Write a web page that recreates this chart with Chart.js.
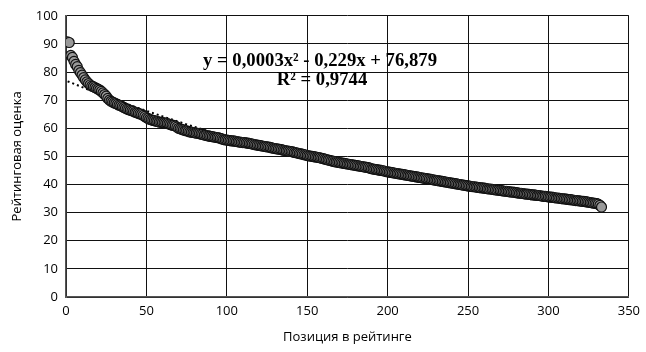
<!DOCTYPE html>
<html>
<head>
<meta charset="utf-8">
<script src="https://cdn.jsdelivr.net/npm/chart.js@4/dist/chart.umd.min.js"></script>
<style>
  html, body { margin: 0; padding: 0; background: #fff; }
  #wrap { width: 646px; height: 352px; }
</style>
</head>
<body>
<div id="wrap"><canvas id="grafica" width="646" height="352"></canvas></div>
<script>
/* Оценки по позициям 1..333 */
const oceny = [
  90.7, 90.5, 85.9, 85.2, 83.8, 82.7, 81.9, 80.6, 79.8, 78.9,
  78.0, 77.2, 76.5, 75.9, 75.4, 75.0, 74.8, 74.5, 74.2, 73.9,
  73.6, 73.1, 72.6, 72.0, 71.4, 70.6, 70.0, 69.6, 69.3, 69.0,
  68.8, 68.5, 68.2, 68.0, 67.7, 67.4, 67.1, 66.8, 66.6, 66.4,
  66.2, 66.0, 65.7, 65.5, 65.3, 65.1, 64.9, 64.6, 64.2, 63.8,
  63.5, 63.2, 63.0, 62.8, 62.7, 62.5, 62.4, 62.2, 62.1, 62.0,
  61.9, 61.8, 61.7, 61.5, 61.3, 61.1, 61.0, 60.8, 60.4, 60.0,
  59.8, 59.6, 59.4, 59.2, 59.1, 58.9, 58.7, 58.6, 58.5, 58.4,
  58.3, 58.2, 58.1, 57.9, 57.8, 57.6, 57.5, 57.3, 57.2, 57.1,
  57.0, 56.9, 56.8, 56.7, 56.6, 56.4, 56.2, 56.0, 55.9, 55.8,
  55.7, 55.6, 55.5, 55.5, 55.4, 55.3, 55.2, 55.1, 55.0, 54.9,
  54.9, 54.8, 54.7, 54.6, 54.5, 54.4, 54.2, 54.1, 54.0, 53.9,
  53.8, 53.7, 53.6, 53.5, 53.4, 53.3, 53.2, 53.0, 52.9, 52.8,
  52.7, 52.6, 52.5, 52.4, 52.2, 52.1, 52.0, 51.9, 51.8, 51.7,
  51.6, 51.4, 51.3, 51.2, 51.0, 50.9, 50.8, 50.6, 50.5, 50.3,
  50.2, 50.1, 50.0, 49.9, 49.8, 49.7, 49.6, 49.5, 49.3, 49.2,
  49.0, 48.9, 48.7, 48.6, 48.4, 48.3, 48.1, 48.0, 47.9, 47.8,
  47.7, 47.6, 47.5, 47.4, 47.3, 47.2, 47.1, 47.0, 46.9, 46.8,
  46.7, 46.6, 46.5, 46.4, 46.3, 46.2, 46.1, 46.0, 45.8, 45.6,
  45.5, 45.4, 45.3, 45.2, 45.1, 45.0, 44.9, 44.8, 44.6, 44.5,
  44.4, 44.3, 44.2, 44.1, 44.0, 43.9, 43.8, 43.7, 43.6, 43.5,
  43.4, 43.3, 43.2, 43.1, 43.0, 42.9, 42.8, 42.7, 42.6, 42.5,
  42.4, 42.3, 42.2, 42.1, 42.0, 41.9, 41.8, 41.7, 41.6, 41.5,
  41.4, 41.3, 41.2, 41.1, 41.0, 40.9, 40.8, 40.7, 40.6, 40.5,
  40.4, 40.3, 40.2, 40.1, 40.0, 39.9, 39.8, 39.7, 39.6, 39.5,
  39.4, 39.3, 39.2, 39.2, 39.1, 39.0, 38.9, 38.8, 38.8, 38.7,
  38.6, 38.5, 38.4, 38.4, 38.3, 38.2, 38.1, 38.0, 38.0, 37.9,
  37.8, 37.7, 37.6, 37.6, 37.5, 37.4, 37.3, 37.3, 37.2, 37.1,
  37.0, 36.9, 36.9, 36.8, 36.7, 36.6, 36.6, 36.5, 36.4, 36.3,
  36.3, 36.2, 36.1, 36.1, 36.0, 35.9, 35.8, 35.8, 35.7, 35.6,
  35.5, 35.5, 35.4, 35.3, 35.2, 35.2, 35.1, 35.0, 34.9, 34.9,
  34.8, 34.7, 34.6, 34.6, 34.5, 34.4, 34.3, 34.3, 34.2, 34.1,
  34.0, 34.0, 33.9, 33.8, 33.7, 33.6, 33.5, 33.4, 33.3, 33.2,
  33.0, 32.6, 32.0
];

/* Линия тренда (точки) */
const trendX = [1, 25, 50, 75, 100, 125, 150, 175, 200, 225, 250, 275, 300, 333];
const trendY = [76.7, 71.3, 66.2, 61.4, 57.0, 52.9, 49.3, 46.0, 43.1, 40.5, 38.4, 36.6, 35.2, 34.6];

const uravnenie = "y = 0,0003x\u00B2 - 0,229x + 76,879";
const r2tekst = "R\u00B2 = 0,9744";

const tochki = oceny.map((v, i) => ({ x: i + 1, y: v }));
const trend = trendX.map((x, i) => ({ x: x, y: trendY[i] }));

const shriftOsi = "'Open Sans', 'Noto Sans', sans-serif";

/* Надпись с уравнением */
const nadpis = {
    id: "nadpis",
    afterDraw(chart) {
        const c = chart.ctx;
        c.save();
        c.fillStyle = "#000";
        c.font = "bold 18.7px 'Liberation Serif', 'Times New Roman', serif";
        c.textAlign = "center";
        c.textBaseline = "alphabetic";
        c.fillText(uravnenie, 320, 66);
        c.fillText(r2tekst, 322, 85);
        c.restore();
    }
};

new Chart(document.getElementById("grafica").getContext("2d"), {
    type: "scatter",
    data: {
        datasets: [
            {
                data: tochki,
                backgroundColor: "#999",
                borderColor: "#111",
                borderWidth: 1.2,
                pointRadius: 5,
                pointHoverRadius: 5
            },
            {
                type: "line",
                data: trend,
                borderColor: "#000",
                borderWidth: 2,
                borderDash: [2, 3],
                pointRadius: 0,
                fill: false,
                cubicInterpolationMode: "monotone"
            }
        ]
    },
    options: {
        responsive: false,
        animation: false,
        layout: { padding: { left: 0, top: 14, right: 12, bottom: 0 } },
        plugins: {
            legend: { display: false },
            tooltip: { enabled: false }
        },
        scales: {
            x: {
                type: "linear",
                min: 0,
                max: 350,
                afterFit(s) { s.height = 55; },
                ticks: { stepSize: 50, padding: 6, color: "#000", font: { family: shriftOsi, size: 13 } },
                grid: { color: "#111", lineWidth: 1, drawTicks: false },
                border: { color: "#555", width: 1.5 },
                title: {
                    display: true,
                    text: "Позиция в рейтинге",
                    color: "#000",
                    font: { family: shriftOsi, size: 13 },
                    padding: { top: 0, bottom: 7 }
                }
            },
            y: {
                min: 0,
                max: 100,
                afterFit(s) { s.width = 66; },
                ticks: { stepSize: 10, padding: 8, color: "#000", font: { family: shriftOsi, size: 13 } },
                grid: { color: "#111", lineWidth: 1, drawTicks: false },
                border: { color: "#555", width: 1.5 },
                title: {
                    display: true,
                    text: "Рейтинговая оценка",
                    color: "#000",
                    font: { family: shriftOsi, size: 13 },
                    padding: { top: 9, bottom: 0 }
                }
            }
        }
    },
    plugins: [nadpis]
});
</script>
</body>
</html>
